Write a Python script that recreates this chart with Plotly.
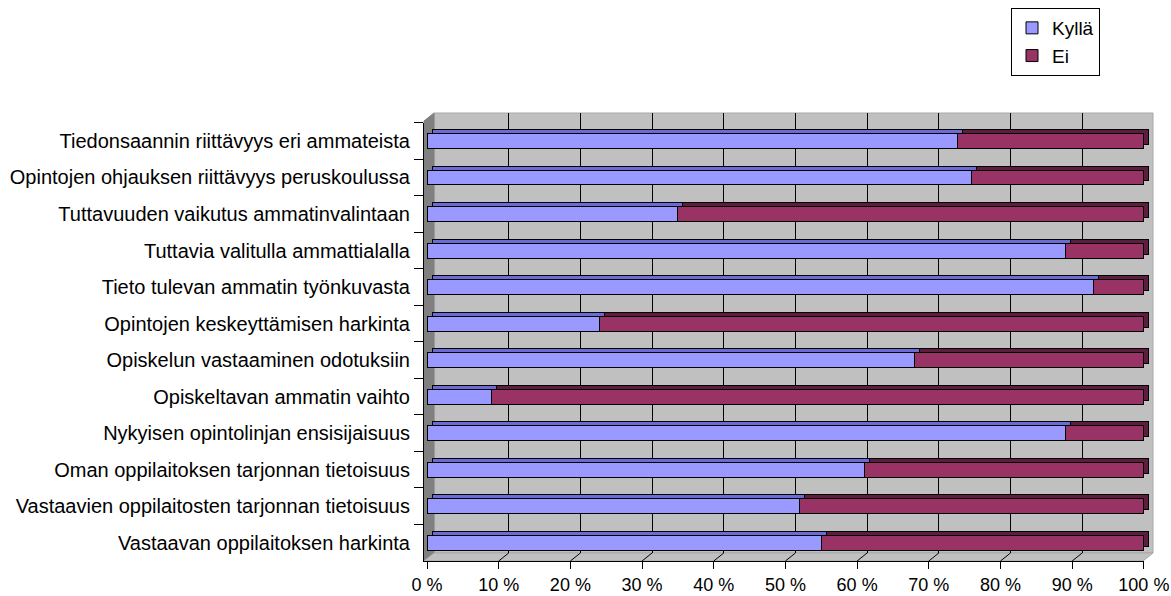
# Environment Setting
import plotly.graph_objects as go

# Data
categories = [
    'Tiedonsaannin riittävyys eri ammateista',
    'Opintojen ohjauksen riittävyys peruskoulussa',
    'Tuttavuuden vaikutus ammatinvalintaan',
    'Tuttavia valitulla ammattialalla',
    'Tieto tulevan ammatin työnkuvasta',
    'Opintojen keskeyttämisen harkinta',
    'Opiskelun vastaaminen odotuksiin',
    'Opiskeltavan ammatin vaihto',
    'Nykyisen opintolinjan ensisijaisuus',
    'Oman oppilaitoksen tarjonnan tietoisuus',
    'Vastaavien oppilaitosten tarjonnan tietoisuus',
    'Vastaavan oppilaitoksen harkinta',
]
kylla = [74, 76, 35, 89, 93, 24, 68, 9, 89, 61, 52, 55]
ei    = [26, 24, 65, 11, 7, 76, 32, 91, 11, 39, 48, 45]
xTicks     = [0, 10, 20, 30, 40, 50, 60, 70, 80, 90, 100]
xTickText  = ['0 %', '10 %', '20 %', '30 %', '40 %', '50 %', '60 %', '70 %', '80 %', '90 %', '100 %']

# Layout helpers (pixels -> paper)
W, H = 1171, 596
def PxX(p): return p / W
def PxY(p): return 1 - p / H

FONT = dict(family='Liberation Sans, Arial, sans-serif', size=20, color='#000000')
xRange = [-0.42, 100.02]
unitPx = (1144 - 424) / (xRange[1] - xRange[0])

fig = go.Figure()

# back wall grid holder
fig.add_trace(go.Scatter(x=[], y=[], xaxis='x', yaxis='y', showlegend=False, hoverinfo='skip'))

# bar depth (top / end faces)
fig.add_trace(go.Bar(y=categories, x=kylla, orientation='h', xaxis='x2', yaxis='y2', showlegend=False,
                     marker=dict(color='#6B6BD6', line=dict(color='#000000', width=1)), hoverinfo='skip'))
fig.add_trace(go.Bar(y=categories, x=ei, orientation='h', xaxis='x2', yaxis='y2', showlegend=False,
                     marker=dict(color='#5E1D3E', line=dict(color='#000000', width=1)), hoverinfo='skip'))

# front faces
fig.add_trace(go.Bar(y=categories, x=kylla, orientation='h', name='Kyllä', xaxis='x3', yaxis='y3',
                     marker=dict(color='#9999FF', line=dict(color='#000000', width=1))))
fig.add_trace(go.Bar(y=categories, x=ei, orientation='h', name='Ei', xaxis='x3', yaxis='y3',
                     marker=dict(color='#993366', line=dict(color='#000000', width=1))))

def Pt(x, y): return f'{PxX(x):.5f},{PxY(y):.5f}'

shapes = [
    dict(type='rect', xref='paper', yref='paper', layer='below',
         x0=PxX(434), x1=PxX(1153), y0=PxY(553), y1=PxY(113),
         fillcolor='#C0C0C0', line=dict(color='#A8A8A8', width=1)),
    dict(type='path', xref='paper', yref='paper', layer='below',
         path=f'M {Pt(424,121)} L {Pt(434,113)} L {Pt(434,553)} L {Pt(424,561)} Z',
         fillcolor='#808080', line=dict(color='#808080', width=1)),
    dict(type='path', xref='paper', yref='paper', layer='below',
         path=f'M {Pt(424,561)} L {Pt(434,553)} L {Pt(1153,553)} L {Pt(1143,561)} Z',
         fillcolor='#C0C0C0', line=dict(color='#A8A8A8', width=1)),
]
# floor lines continuing the grid
for v in xTicks[1:-1]:
    shapes.append(dict(type='line', xref='x3', yref='paper', layer='above',
                       x0=v, x1=v + 10 / unitPx, y0=PxY(561), y1=PxY(553),
                       line=dict(color='#000000', width=1)))

fig.update_layout(
    width=W, height=H,
    margin=dict(l=0, r=0, t=0, b=0, autoexpand=False),
    paper_bgcolor='#FFFFFF', plot_bgcolor='rgba(0,0,0,0)',
    barmode='stack', bargap=0.59,
    font=FONT,
    shapes=shapes,
    showlegend=True,
    legend=dict(x=PxX(1011), y=PxY(8), xanchor='left', yanchor='top', traceorder='normal',
                bordercolor='#000000', borderwidth=1, bgcolor='#FFFFFF',
                font=dict(family=FONT['family'], size=19, color='#000000')),
    xaxis=dict(domain=[PxX(434), PxX(1154)], range=xRange, anchor='y',
               tickvals=xTicks[1:-1], showgrid=True, gridcolor='#000000', gridwidth=1,
               showticklabels=False, ticks='', zeroline=False, showline=False),
    yaxis=dict(domain=[PxY(553), PxY(113)], range=[0, 1], anchor='x', visible=False),
    xaxis2=dict(domain=[PxX(429), PxX(1149)], range=xRange, anchor='y2', visible=False),
    yaxis2=dict(domain=[PxY(557), PxY(118.7)], anchor='x2', visible=False, autorange='reversed'),
    xaxis3=dict(domain=[PxX(424), PxX(1144)], range=xRange, anchor='y3',
                tickvals=xTicks, ticktext=xTickText, ticks='outside', ticklen=7, tickcolor='#000000',
                showline=True, linecolor='#000000', showgrid=False, zeroline=False,
                ticklabelstandoff=0, tickfont=dict(FONT, size=18)),
    yaxis3=dict(domain=[PxY(561), PxY(122.7)], anchor='x3', autorange='reversed',
                ticks='outside', ticklen=9, tickcolor='#000000', tickson='boundaries',
                showline=True, linecolor='#000000', showgrid=False,
                ticklabelstandoff=9, tickfont=FONT),
)

fig.write_html('out.html', config={'displayModeBar': False},
               post_script="document.body.style.margin='0';")
